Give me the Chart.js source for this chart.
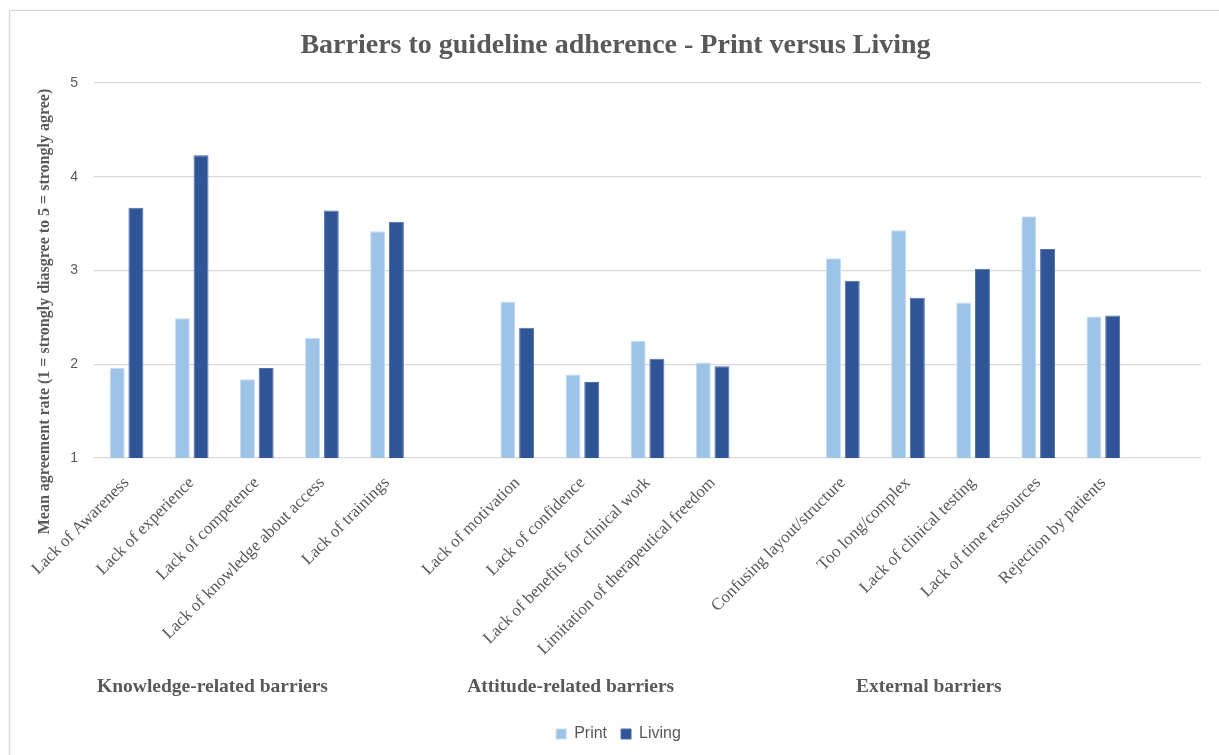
<!DOCTYPE html>
<html>
<head>
<meta charset="utf-8">
<script src="https://cdn.jsdelivr.net/npm/chart.js@4.4.0/dist/chart.umd.min.js"></script>
<style>
  html, body { margin: 0; padding: 0; background: #ffffff; }
  #wrap { position: relative; width: 1219px; height: 755px; }
</style>
</head>
<body>
<div id="wrap"><canvas id="chart" width="1219" height="755"></canvas></div>
<script>
// Barrier categories; empty entries separate the three barrier groups
const categories = [
  'Lack of Awareness', 'Lack of experience', 'Lack of competence',
  'Lack of knowledge about access', 'Lack of trainings', '',
  'Lack of motivation', 'Lack of confidence', 'Lack of benefits for clinical work',
  'Limitation of therapeutical freedom', '',
  'Confusing layout/structure', 'Too long/complex', 'Lack of clinical testing',
  'Lack of time ressources', 'Rejection by patients', ''
];
const printValues  = [1.96, 2.49, 1.84, 2.28, 3.42, null, 2.67, 1.89, 2.25, 2.02, null, 3.13, 3.43, 2.66, 3.58, 2.51, null];
const livingValues = [3.67, 4.23, 1.96, 3.64, 3.52, null, 2.39, 1.81, 2.06, 1.98, null, 2.89, 2.71, 3.02, 3.23, 2.52, null];
const yTicks = [1, 2, 3, 4, 5];
const groupNames = ['Knowledge-related barriers', 'Attitude-related barriers', 'External barriers'];
const groupFirst = [0, 6, 11];
const groupLast  = [4, 9, 15];
const titleText = 'Barriers to guideline adherence - Print versus Living';
const yTitleText = 'Mean agreement rate (1 = strongly diasgree to 5 = strongly agree)';

const GREY = '#595959';
const SERIF = '"Liberation Serif", "Times New Roman", serif';
const SANS = '"Liberation Sans", Arial, sans-serif';

// Frame, title, rotated axis title and group captions
const decorations = {
  id: 'decorations',
  beforeDraw(chart) {
    const ctx = chart.ctx;
    ctx.save();
    ctx.fillStyle = '#ffffff';
    ctx.fillRect(0, 0, chart.width, chart.height);
    ctx.strokeStyle = '#d9d9d9';
    ctx.lineWidth = 1.3;
    ctx.strokeRect(9.5, 10.5, chart.width + 40, chart.height + 40);
    ctx.restore();
  },
  afterDraw(chart) {
    const ctx = chart.ctx;
    const area = chart.chartArea;
    const x = chart.scales.x;
    ctx.save();
    ctx.fillStyle = GREY;
    ctx.textAlign = 'center';
    ctx.textBaseline = 'middle';

    ctx.font = 'bold 28px ' + SERIF;
    ctx.fillText(titleText, chart.width / 2 + 6, area.top - 37);

    ctx.save();
    ctx.translate(area.left - 49, (area.top + area.bottom) / 2 + 41);
    ctx.rotate(-Math.PI / 2);
    ctx.font = 'bold 16px ' + SERIF;
    ctx.fillText(yTitleText, 0, 0);
    ctx.restore();

    const step = x.getPixelForValue(1) - x.getPixelForValue(0);
    ctx.font = 'bold 19.5px ' + SERIF;
    groupNames.forEach((name, i) => {
      const mid = (x.getPixelForValue(groupFirst[i]) + x.getPixelForValue(groupLast[i])) / 2;
      ctx.fillText(name, mid - 0.68 * step, area.bottom + 229);
    });
    ctx.restore();
  }
};

new Chart(document.getElementById('chart'), {
  type: 'bar',
  data: {
    labels: categories,
    datasets: [
      {
        label: 'Print',
        data: printValues,
        backgroundColor: '#9dc3e6',
        borderColor: '#c6dcf1',
        borderWidth: 1,
        categoryPercentage: 0.575,
        barPercentage: 0.8
      },
      {
        label: 'Living',
        data: livingValues,
        backgroundColor: '#2f5597',
        borderColor: '#4f6fab',
        borderWidth: 1,
        categoryPercentage: 0.575,
        barPercentage: 0.8
      }
    ]
  },
  options: {
    responsive: false,
    animation: false,
    devicePixelRatio: 1,
    layout: { padding: { left: 36, right: 18, top: 83, bottom: 3 } },
    plugins: {
      title: { display: false },
      tooltip: { enabled: false },
      legend: {
        position: 'bottom',
        labels: {
          boxWidth: 10,
          boxHeight: 10,
          padding: 14,
          color: GREY,
          font: { family: SANS, size: 16 }
        }
      }
    },
    scales: {
      x: {
        grid: { display: false },
        border: { display: false },
        ticks: {
          autoSkip: false,
          minRotation: 45,
          maxRotation: 45,
          padding: 7,
          color: GREY,
          font: { family: SERIF, size: 17 }
        },
        afterFit(scale) { scale.height = 254; }
      },
      y: {
        min: 1,
        max: 5,
        afterBuildTicks(scale) { scale.ticks = yTicks.map(v => ({ value: v })); },
        grid: { color: '#d9d9d9', lineWidth: 1.3, drawTicks: false },
        border: { display: false },
        ticks: {
          padding: 16,
          color: GREY,
          font: { family: SANS, size: 14 }
        },
        afterFit(scale) { scale.width = 58; }
      }
    }
  },
  plugins: [decorations]
});
</script>
</body>
</html>
